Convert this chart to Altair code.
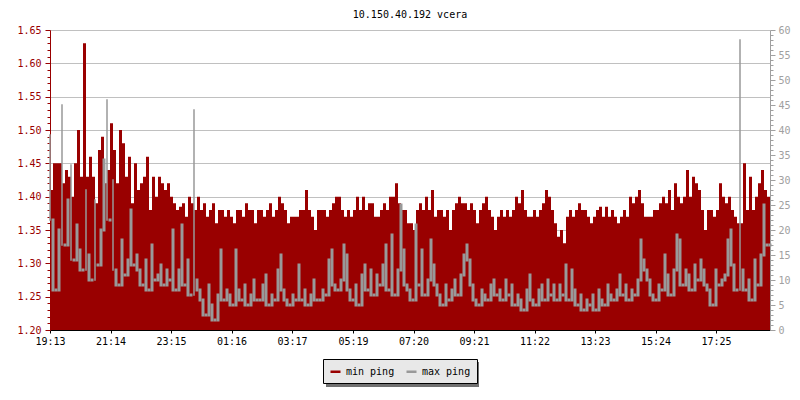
import altair as alt
import pandas as pd

title_text = "10.150.40.192 vcera"
step_minutes = 6
tick_minutes = [0, 121, 242, 363, 484, 606, 727, 848, 969, 1090, 1211, 1332]
tick_labels = ["19:13", "21:14", "23:15", "01:16", "03:17", "05:19",
               "07:20", "09:21", "11:22", "13:23", "15:24", "17:25"]
series_names = ["min ping", "max ping"]
series_colors = ["#990000", "#999999"]

min_ping = [
    1.41, 1.45, 1.45, 1.45, 1.42, 1.44, 1.43, 1.40, 1.45, 1.50,
    1.43, 1.63, 1.43, 1.46, 1.43, 1.39, 1.47, 1.49, 1.42, 1.44,
    1.51, 1.47, 1.42, 1.50, 1.48, 1.43, 1.46, 1.39, 1.45, 1.41,
    1.42, 1.43, 1.46, 1.38, 1.43, 1.40, 1.43, 1.42, 1.41, 1.42,
    1.40, 1.39, 1.38, 1.385, 1.39, 1.37, 1.40, 1.39, 1.38, 1.40,
    1.38, 1.39, 1.37, 1.38, 1.39, 1.36, 1.38, 1.38, 1.37, 1.38,
    1.37, 1.36, 1.38, 1.38, 1.37, 1.39, 1.38, 1.38, 1.36, 1.38,
    1.38, 1.37, 1.38, 1.39, 1.37, 1.38, 1.40, 1.39, 1.38, 1.36,
    1.37, 1.37, 1.37, 1.38, 1.38, 1.41, 1.38, 1.37, 1.35, 1.38,
    1.38, 1.38, 1.37, 1.38, 1.39, 1.40, 1.40, 1.38, 1.37, 1.38,
    1.37, 1.38, 1.40, 1.38, 1.40, 1.38, 1.39, 1.39, 1.37, 1.37,
    1.38, 1.39, 1.38, 1.40, 1.40, 1.42, 1.39, 1.38, 1.38, 1.36,
    1.36, 1.35, 1.38, 1.39, 1.38, 1.40, 1.38, 1.41, 1.37, 1.38,
    1.38, 1.37, 1.38, 1.35, 1.38, 1.39, 1.40, 1.39, 1.39, 1.38,
    1.39, 1.38, 1.36, 1.38, 1.39, 1.40, 1.38, 1.37, 1.35, 1.37,
    1.38, 1.37, 1.38, 1.37, 1.38, 1.40, 1.39, 1.41, 1.38, 1.37,
    1.37, 1.38, 1.37, 1.38, 1.39, 1.41, 1.40, 1.38, 1.36, 1.34,
    1.35, 1.33, 1.37, 1.38, 1.37, 1.38, 1.39, 1.38, 1.38, 1.37,
    1.36, 1.37, 1.38, 1.385, 1.37, 1.385, 1.37, 1.38, 1.37, 1.36,
    1.37, 1.38, 1.37, 1.40, 1.39, 1.40, 1.41, 1.39, 1.37, 1.37,
    1.37, 1.38, 1.38, 1.39, 1.40, 1.39, 1.41, 1.38, 1.42, 1.40,
    1.39, 1.40, 1.44, 1.40, 1.43, 1.42, 1.41, 1.38, 1.35, 1.38,
    1.38, 1.37, 1.38, 1.42, 1.40, 1.39, 1.40, 1.38, 1.37, 1.36,
    1.36, 1.45, 1.38, 1.43, 1.38, 1.40, 1.42, 1.44, 1.41, 1.40,
]

max_ping = [
    39, 22, 8, 20, 45, 17, 26, 33, 14, 21,
    16, 12, 28, 15, 10, 26, 13, 20, 34, 46,
    22, 30, 12, 9, 18, 11, 14, 24, 13, 15,
    12, 9, 14, 8, 17, 10, 11, 13, 9, 12,
    10, 20, 8, 12, 21, 9, 14, 7, 44, 10,
    8, 6, 3, 9, 5, 2, 7, 16, 6, 8,
    7, 5, 16, 8, 6, 9, 5, 7, 10, 6,
    6, 9, 11, 5, 7, 6, 12, 15, 8, 6,
    5, 7, 6, 13, 6, 8, 5, 7, 10, 6,
    6, 8, 7, 14, 16, 9, 8, 10, 17, 15,
    8, 6, 9, 5, 11, 13, 8, 12, 7, 11,
    9, 13, 17, 8, 19, 7, 12, 25, 16, 9,
    8, 6, 21, 9, 16, 7, 10, 18, 13, 9,
    7, 5, 9, 6, 8, 10, 7, 11, 15, 17,
    14, 9, 6, 5, 8, 7, 6, 9, 10, 7,
    8, 6, 10, 7, 9, 5, 7, 6, 4, 8,
    11, 6, 5, 8, 9, 6, 10, 7, 9, 6,
    9, 7, 13, 6, 12, 8, 5, 7, 4, 6,
    5, 7, 4, 8, 6, 5, 9, 7, 6, 8,
    11, 7, 9, 6, 8, 7, 10, 18, 14, 12,
    10, 7, 6, 9, 8, 15, 11, 7, 12, 19,
    18, 9, 12, 11, 8, 13, 10, 14, 12, 9,
    8, 5, 12, 9, 10, 11, 18, 20, 13, 8,
    58, 12, 8, 10, 6, 14, 9, 15, 25, 17,
]

n = len(min_ping)
t = [i * step_minutes for i in range(n)] + [n * step_minutes]
df = pd.DataFrame({
    "t": t,
    "min_ping": min_ping + [min_ping[-1]],
    "max_ping": max_ping + [max_ping[-1]],
    "series": [series_names[1]] * (n + 1),
})

FONT = "DejaVu Sans Mono"
labels_js = "[" + ",".join("'" + s + "'" for s in tick_labels) + "]"
vals_js = "[" + ",".join(str(v) for v in tick_minutes) + "]"

left_ticks = [round(1.20 + 0.01 * k, 2) for k in range(46)]
right_ticks = list(range(0, 61))

x_enc = alt.X(
    "t:Q",
    scale=alt.Scale(domain=[0, n * step_minutes], nice=False, zero=False),
    axis=alt.Axis(
        values=tick_minutes,
        labelExpr=labels_js + "[indexof(" + vals_js + ", datum.value)]",
        title=None, grid=False, domainColor="black", tickColor="black",
        tickSize=3, labelPadding=3, labelColor="black", labelFont=FONT,
        labelFontSize=10, labelOverlap=False, labelFlush=False,
    ),
)

major_left = "round(datum.value*100) % 5 == 0"
major_right = "round(datum.value) % 5 == 0"

area = alt.Chart(df).mark_area(
    interpolate="step-after", color=series_colors[0]
).encode(
    x=x_enc,
    y=alt.Y(
        "min_ping:Q",
        scale=alt.Scale(domain=[1.20, 1.65], zero=False, nice=False),
        axis=alt.Axis(
            orient="left", values=left_ticks, title=None,
            labelExpr="(" + major_left + ") ? format(datum.value, '.2f') : ''",
            labelOverlap=False, labelFlush=False,
            labelColor="#990000", labelFont=FONT, labelFontSize=10,
            domainColor="#990000", tickColor="#990000",
            tickSize={"condition": {"test": major_left, "value": 5}, "value": 3},
            labelPadding=4,
            grid=True, gridColor="#c0c0c0",
            gridOpacity={"condition": {"test": major_left, "value": 1}, "value": 0},
        ),
    ),
    y2=alt.Y2Datum(1.20),
)

# max ping: each sample drawn as a vertical stroke down to its lower neighbour
line = alt.Chart(df).transform_window(
    prev="lag(max_ping)", nxt="lead(max_ping)", sort=[alt.SortField("t")]
).transform_calculate(
    lo_max=(
        "min(datum.max_ping, "
        "datum.prev == null ? datum.max_ping : datum.prev, "
        "datum.nxt == null ? datum.max_ping : datum.nxt)"
    )
).mark_rule(strokeCap="square").encode(
    x=x_enc,
    y=alt.Y(
        "max_ping:Q",
        scale=alt.Scale(domain=[0, 60], zero=False, nice=False),
        axis=alt.Axis(
            orient="right", values=right_ticks, title=None,
            labelExpr="(" + major_right + ") ? format(datum.value, 'd') : ''",
            labelOverlap=False, labelFlush=False,
            labelColor="#a0a0a0", labelFont=FONT, labelFontSize=10,
            domainColor="#a0a0a0", tickColor="#a0a0a0",
            tickSize={"condition": {"test": major_right, "value": 5}, "value": 3},
            labelPadding=3, grid=False,
        ),
    ),
    y2="lo_max:Q",
    strokeWidth=alt.condition(
        "datum.max_ping - datum.lo_max > 15", alt.value(1.5), alt.value(3)
    ),
    color=alt.Color(
        "series:N",
        scale=alt.Scale(domain=series_names, range=series_colors),
        legend=alt.Legend(
            orient="none", legendX=273, legendY=329, direction="horizontal",
            title=None, fillColor="#e8e8e8", strokeColor="black",
            padding=6, labelFont=FONT, labelFontSize=10, labelColor="black",
            symbolType="stroke", symbolStrokeWidth=2.5, symbolSize=100,
            labelOffset=4, columnPadding=6,
            labelExpr="datum.label == 'max ping' ? datum.label + '  ' : datum.label",
        ),
    ),
)

shadow = alt.Chart(alt.Data(values=[{}])).mark_rect(color="#707070").encode(
    x=alt.value(276), x2=alt.value(429), y=alt.value(332), y2=alt.value(357)
)

chart = alt.layer(shadow, area, line).resolve_scale(
    y="independent"
).properties(
    width=720, height=300,
    autosize="none",
    padding={"left": 42, "top": 22, "right": 22, "bottom": 62},
    title=alt.TitleParams(
        title_text, font=FONT, fontSize=10, fontWeight="normal",
        color="black", anchor="middle", offset=5,
    ),
).configure_view(strokeOpacity=0)

chart.save("out.html", embed_options={"renderer": "svg", "actions": False})
